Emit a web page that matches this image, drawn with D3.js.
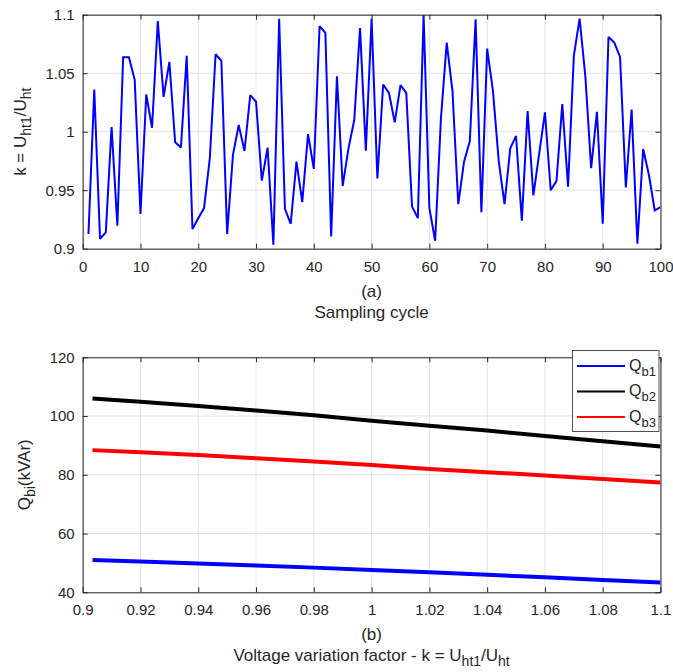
<!DOCTYPE html>
<html>
<head>
<meta charset="utf-8">
<script src="https://cdn.jsdelivr.net/npm/d3@7"></script>
<style>
  html, body { margin: 0; padding: 0; background: #fff; }
  svg { display: block; font-family: "Liberation Sans", Arial, Helvetica, sans-serif; }
</style>
</head>
<body>
<svg id="chart" width="673" height="672"></svg>
<script>
// ---------- DATA ----------
const sampleCycle = d3.range(1, 101);
const kValues = [
  0.9125, 1.036, 0.9085, 0.914, 1.004, 0.9196, 1.0636, 1.0636, 1.0443, 0.9298,
  1.0318, 1.0034, 1.0946, 1.0298, 1.0597, 0.9909, 0.9866, 1.0648, 0.9168, 0.9261,
  0.9347, 0.9773, 1.0662, 1.0605, 0.9125, 0.980, 1.0057, 0.9835, 1.0313, 1.0256,
  0.9582, 0.9864, 0.9034, 1.0966, 0.934, 0.9213, 0.9744, 0.9398, 0.998, 0.9682,
  1.0903, 1.0844, 0.9105, 1.0474, 0.9537, 0.9858, 1.01, 1.0886, 0.9838, 1.0966,
  0.960, 1.0403, 1.0332, 1.008, 1.0398, 1.0332, 0.936, 0.9261, 1.1, 0.9347,
  0.9068, 1.0114, 1.0761, 1.0347, 0.938, 0.9744, 0.992, 1.096, 0.9312, 1.071,
  1.035, 0.975, 0.938, 0.9858, 0.9963, 0.9239, 1.0176, 0.9455, 0.981, 1.0165,
  0.950, 0.958, 1.0236, 0.953, 1.0648, 1.0966, 1.047, 0.9688, 1.017, 0.9213,
  1.081, 1.0761, 1.0639, 0.9523, 1.019, 0.9043, 0.9852, 0.963, 0.9327, 0.9355
];
const topXTicks = [0, 10, 20, 30, 40, 50, 60, 70, 80, 90, 100];
const topXTickLabels = ["0", "10", "20", "30", "40", "50", "60", "70", "80", "90", "100"];
const topYTicks = [0.9, 0.95, 1.0, 1.05, 1.1];
const topYTickLabels = ["0.9", "0.95", "1", "1.05", "1.1"];

const kAxis = [0.9034, 0.92, 0.94, 0.96, 0.98, 1.0, 1.02, 1.04, 1.06, 1.08, 1.1];
const Qb1 = [51.0, 50.5, 49.8, 49.1, 48.4, 47.6, 46.8, 46.0, 45.1, 44.2, 43.3];
const Qb2 = [106.0, 104.9, 103.4, 101.9, 100.3, 98.4, 96.7, 95.1, 93.2, 91.4, 89.6];
const Qb3 = [88.4, 87.7, 86.7, 85.6, 84.5, 83.3, 82.0, 80.9, 79.8, 78.6, 77.4];
const seriesNames = ["b1", "b2", "b3"];
const seriesColors = ["#0000ff", "#000000", "#ff0000"];
const botXTicks = [0.9, 0.92, 0.94, 0.96, 0.98, 1.0, 1.02, 1.04, 1.06, 1.08, 1.1];
const botXTickLabels = ["0.9", "0.92", "0.94", "0.96", "0.98", "1", "1.02", "1.04", "1.06", "1.08", "1.1"];
const botYTicks = [40, 60, 80, 100, 120];
const botYTickLabels = ["40", "60", "80", "100", "120"];

// ---------- LAYOUT ----------
const svg = d3.select("#chart");
const AX = "#262626";
const GRID = "#e3e3e3";
const TICKFS = 15;
const LABFS = 17;
const SUBFS = 14;

function drawPanel(cfg) {
  const { left, right, top, bottom, x, y, xTicks, xLabels, yTicks, yLabels, id } = cfg;
  const g = svg.append("g");
  g.append("g").selectAll("line").data(xTicks).join("line")
    .attr("x1", d => x(d)).attr("x2", d => x(d))
    .attr("y1", top).attr("y2", bottom)
    .attr("stroke", GRID).attr("stroke-width", 1);
  g.append("g").selectAll("line").data(yTicks).join("line")
    .attr("x1", left).attr("x2", right)
    .attr("y1", d => y(d)).attr("y2", d => y(d))
    .attr("stroke", GRID).attr("stroke-width", 1);
  svg.append("clipPath").attr("id", id)
    .append("rect").attr("x", left).attr("y", top)
    .attr("width", right - left).attr("height", bottom - top);
  const dataG = svg.append("g").attr("clip-path", `url(#${id})`);

  const axG = svg.append("g");
  const fmtX = d => xLabels[xTicks.indexOf(d)];
  const fmtY = d => yLabels[yTicks.indexOf(d)];
  const bAx = axG.append("g").attr("transform", `translate(0,${bottom})`)
    .call(d3.axisBottom(x).tickValues(xTicks).tickFormat(fmtX).tickSizeInner(-5).tickSizeOuter(0).tickPadding(12.3));
  const lAx = axG.append("g").attr("transform", `translate(${left},0)`)
    .call(d3.axisLeft(y).tickValues(yTicks).tickFormat(fmtY).tickSizeInner(-5).tickSizeOuter(0).tickPadding(8));
  const tAx = axG.append("g").attr("transform", `translate(0,${top})`)
    .call(d3.axisTop(x).tickValues(xTicks).tickFormat("").tickSizeInner(-5).tickSizeOuter(0));
  const rAx = axG.append("g").attr("transform", `translate(${right},0)`)
    .call(d3.axisRight(y).tickValues(yTicks).tickFormat("").tickSizeInner(-5).tickSizeOuter(0));
  [bAx, lAx, tAx, rAx].forEach(a => {
    a.select(".domain").attr("stroke", AX).attr("stroke-width", 1);
    a.selectAll(".tick line").attr("stroke", AX).attr("stroke-width", 1);
    a.selectAll(".tick text").attr("fill", AX).attr("font-size", TICKFS)
      .attr("font-family", '"Liberation Sans", Arial, sans-serif');
  });
  return dataG;
}

function subText(sel, parts, fs, subfs) {
  let prevSub = false;
  parts.forEach(([t, sub]) => {
    const ts = sel.append("tspan").text(t).attr("font-size", sub ? subfs : fs);
    if (sub && !prevSub) ts.attr("dy", 5);
    else if (!sub && prevSub) ts.attr("dy", -5);
    prevSub = sub;
  });
}

// ---------- TOP PANEL ----------
const T = { left: 82.7, right: 660.5, top: 14.7, bottom: 248.7 };
const xTop = d3.scaleLinear().domain([0, 100]).range([T.left, T.right]);
const yTop = d3.scaleLinear().domain([0.9, 1.1]).range([T.bottom, T.top]);
const topData = drawPanel({ ...T, x: xTop, y: yTop, xTicks: topXTicks, xLabels: topXTickLabels,
  yTicks: topYTicks, yLabels: topYTickLabels, id: "clipTop" });
topData.append("path")
  .datum(sampleCycle.map((s, i) => [s, kValues[i]]))
  .attr("fill", "none").attr("stroke", "#0000ff").attr("stroke-width", 2)
  .attr("stroke-linejoin", "miter").attr("stroke-miterlimit", 2)
  .attr("d", d3.line().x(d => xTop(d[0])).y(d => yTop(d[1])));

svg.append("text").attr("x", (T.left + T.right) / 2).attr("y", T.bottom + 48)
  .attr("text-anchor", "middle").attr("font-size", LABFS).attr("fill", AX).text("(a)");
svg.append("text").attr("x", (T.left + T.right) / 2).attr("y", T.bottom + 69.6)
  .attr("text-anchor", "middle").attr("font-size", LABFS).attr("fill", AX).text("Sampling cycle");
const yl1 = svg.append("text")
  .attr("transform", `translate(25.5,${(T.top + T.bottom) / 2}) rotate(-90)`)
  .attr("text-anchor", "middle").attr("fill", AX).attr("font-size", LABFS);
subText(yl1, [["k = U", false], ["ht1", true], ["/U", false], ["ht", true]], LABFS, SUBFS);

// ---------- BOTTOM PANEL ----------
const B = { left: 82.7, right: 660.5, top: 357.3, bottom: 592.3 };
const xBot = d3.scaleLinear().domain([0.9, 1.1]).range([B.left, B.right]);
const yBot = d3.scaleLinear().domain([40, 120]).range([B.bottom, B.top]);
const botData = drawPanel({ ...B, x: xBot, y: yBot, xTicks: botXTicks, xLabels: botXTickLabels,
  yTicks: botYTicks, yLabels: botYTickLabels, id: "clipBot" });
const seriesValues = [Qb1, Qb2, Qb3];
const qLine = d3.line().x(d => xBot(d[0])).y(d => yBot(d[1]));
seriesValues.forEach((vals, si) => {
  botData.append("path")
    .datum(kAxis.map((k, i) => [k, vals[i]]))
    .attr("fill", "none").attr("stroke", seriesColors[si]).attr("stroke-width", 4)
    .attr("d", qLine);
});

svg.append("text").attr("x", (B.left + B.right) / 2).attr("y", B.bottom + 48)
  .attr("text-anchor", "middle").attr("font-size", LABFS).attr("fill", AX).text("(b)");
const xl2 = svg.append("text").attr("x", (B.left + B.right) / 2).attr("y", B.bottom + 68.5)
  .attr("text-anchor", "middle").attr("font-size", LABFS).attr("fill", AX);
subText(xl2, [["Voltage variation factor - k = U", false], ["ht1", true], ["/U", false], ["ht", true]], LABFS, SUBFS);
const yl2 = svg.append("text")
  .attr("transform", `translate(30,${(B.top + B.bottom) / 2}) rotate(-90)`)
  .attr("text-anchor", "middle").attr("fill", AX).attr("font-size", LABFS);
subText(yl2, [["Q", false], ["bi", true], ["(kVAr)", false]], LABFS, SUBFS);

// legend
const lg = svg.append("g");
lg.append("rect").attr("x", 572.5).attr("y", 350.5).attr("width", 86.5).attr("height", 81)
  .attr("fill", "#fff").attr("stroke", AX).attr("stroke-width", 0.8);
const rowY = [366, 391.5, 417];
seriesNames.forEach((n, i) => {
  lg.append("line").attr("x1", 577).attr("x2", 625).attr("y1", rowY[i]).attr("y2", rowY[i])
    .attr("stroke", seriesColors[i]).attr("stroke-width", 2);
  const t = lg.append("text").attr("x", 629).attr("y", rowY[i] + 4.5).attr("fill", AX);
  subText(t, [["Q", false], [n, true]], 16, 13);
});
</script>
</body>
</html>
